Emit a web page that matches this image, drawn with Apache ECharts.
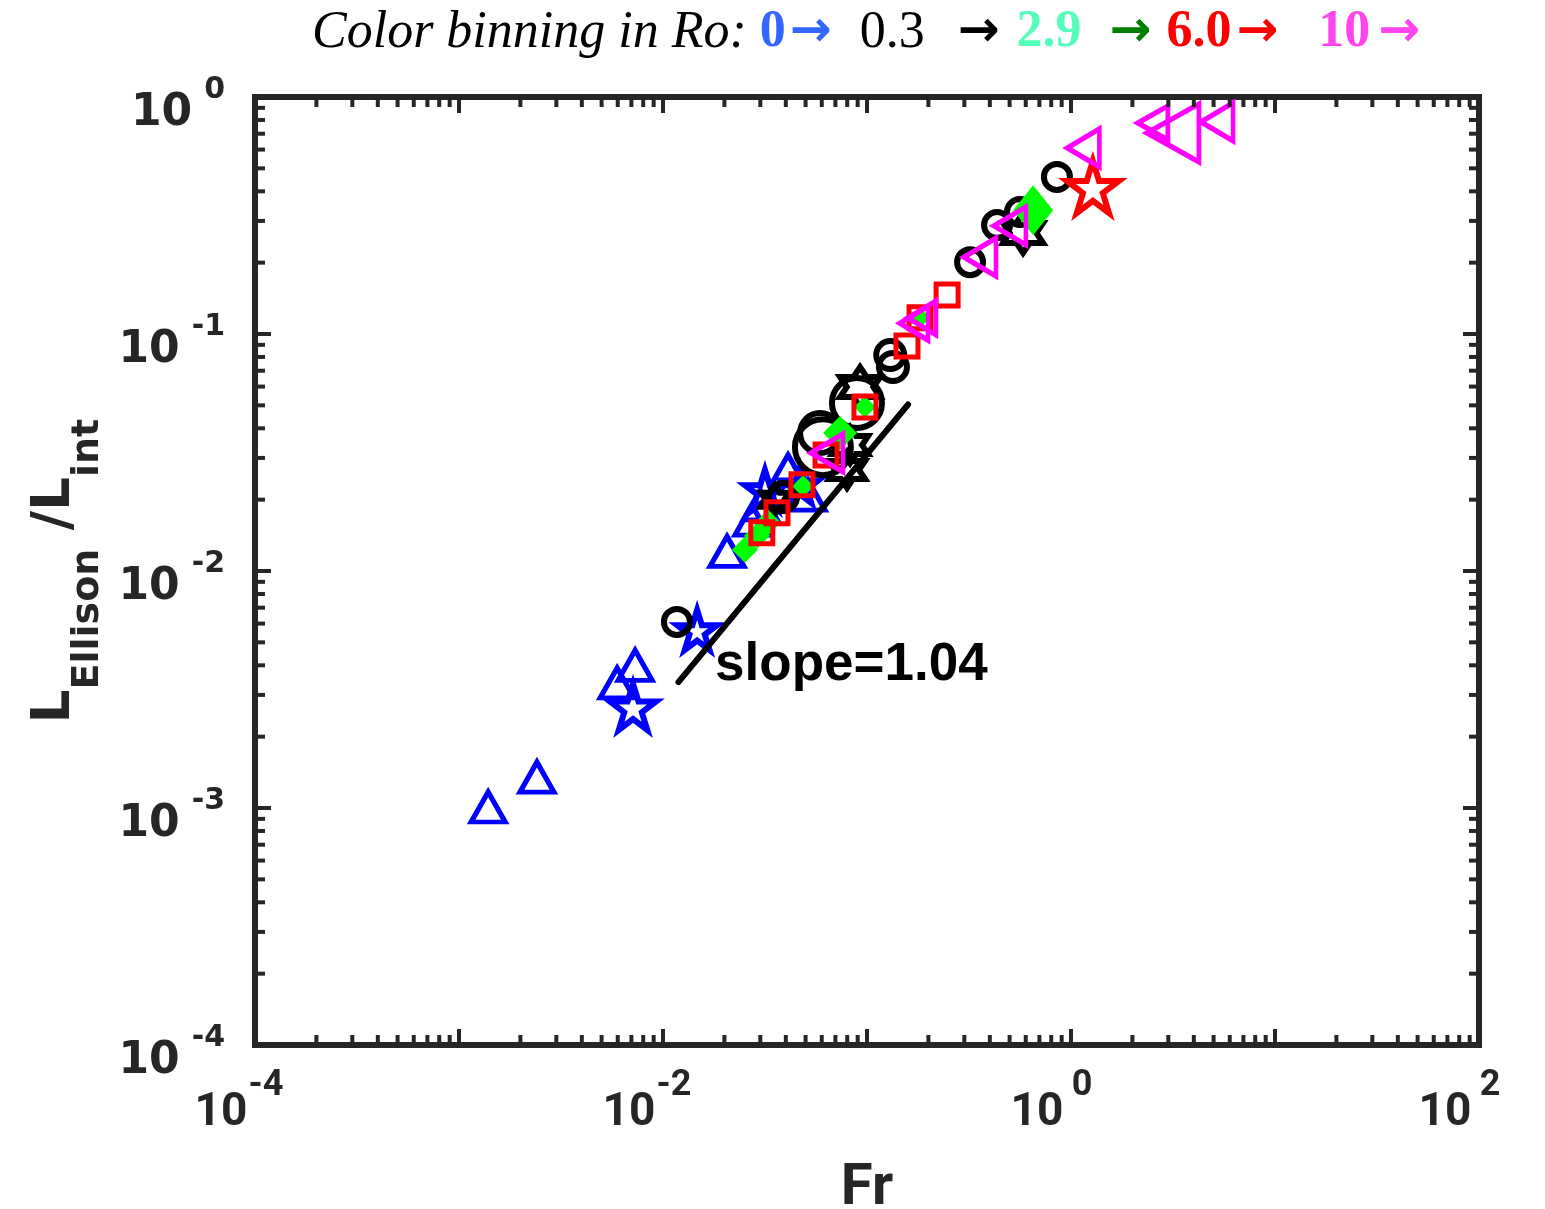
<!DOCTYPE html>
<html>
<head>
<meta charset="utf-8">
<script src="https://cdn.jsdelivr.net/npm/echarts@6/dist/echarts.min.js"></script>
<style>
  html, body { margin: 0; padding: 0; background: #ffffff; }
  #chart { width: 1545px; height: 1209px; }
</style>
</head>
<body>
<div id="chart"></div>
<script>
// ---- data: Fr (x) against L_Ellison / L_int (y), grouped by Ro bin and marker ----
const blueTriangles = [[0.00139,0.00101],[0.00241,0.00135],[0.00596,0.00337],[0.0073,0.0040],[0.0206,0.0121],[0.0273,0.0164],[0.030,0.019],[0.041,0.0267],[0.0514,0.0209]];
const blueStars = [[0.00713,0.00267],[0.0147,0.00564],[0.0316,0.022],[0.047,0.0231]];
const blackCircles = [[0.0117,0.0061],[0.0387,0.0205],[0.0608,0.0333],[0.0589,0.0382],[0.0893,0.0512],[0.13,0.0815],[0.134,0.0726],[0.32,0.201],[0.434,0.288],[0.562,0.327],[0.853,0.46]];
const blackHexagrams = [[0.582,0.267],[0.0925,0.0597],[0.0798,0.0267],[0.0826,0.034],[0.0354,0.020]];
const greenDiamonds = [[0.0252,0.0123],[0.0289,0.0141],[0.0327,0.016],[0.0486,0.0228],[0.0977,0.0492],[0.0738,0.0382],[0.182,0.117],[0.652,0.333]];
const redSquares = [[0.0305,0.0145],[0.0362,0.0176],[0.048,0.0231],[0.0977,0.0492],[0.157,0.089],[0.247,0.146],[0.063,0.0309],[0.182,0.117]];
const redStars = [[1.28,0.417]];
const magentaTriangles = [[1.15,0.61],[2.52,0.777],[3.16,0.705],[5.2,0.785],[0.358,0.211],[0.502,0.286],[0.186,0.117],[0.17,0.111],[0.0637,0.0315]];

// power-law fit drawn as a segment, and its label
const fitSlope = 1.04;
const fitLine = [[0.0119,0.0034],[0.159,0.0504]];
const slopeLabelAt = [0.018, 0.0040];

// axis ranges (decades)
const xRange = [1e-4, 1e2];
const yRange = [1e-4, 1];

// colour-bin caption pieces
const binValues = ['0', '0.3', '2.9', '6.0', '10'];

// ---- marker sizes (px, [width, height] where not square) ----
const blueTriangleSizes = [[34,30],[34,30],[34,30],[34,30],[34,30],[34,30],[34,30],[34,30],[34,30]];
const blueStarSizes = [46,40,40,36];
const blackCircleSizes = [26,28,56,40,50,28,28,26,26,26,26];
const blackHexagramSizes = [40,40,36,36,28];
const greenDiamondSizes = [26,26,26,22,22,34,20,[40,50]];
const redSquareSizes = [22,22,22,22,22,22,22,22];
const redStarSizes = [52];
const magentaTriangleSizes = [[32,38],[30,34],[52,58],[32,38],[32,38],[32,38],[28,34],[28,34],[32,38]];

// ---- symbol shapes ----
const STAR5 = 'path://M50,0 L61.23,34.55 L97.55,34.55 L68.16,55.9 L79.39,90.45 L50,69.1 L20.61,90.45 L31.84,55.9 L2.45,34.55 L38.77,34.55 Z';
const STAR6 = 'path://M50,0 L64.43,25 L93.3,25 L78.87,50 L93.3,75 L64.43,75 L50,100 L35.57,75 L6.7,75 L21.13,50 L6.7,25 L35.57,25 Z';
const TRI_LEFT = 'path://M0,50 L100,0 L100,100 Z';

const AXIS_COLOR = '#262626';

function withSizes(points, sizes) {
  return points.map((p, i) => ({ value: p, symbolSize: sizes[i] }));
}

function markerSeries(name, points, sizes, symbol, color, filled, width) {
  return {
    name: name,
    type: 'scatter',
    symbol: symbol,
    data: withSizes(points, sizes),
    itemStyle: {
      opacity: 1,
      color: filled ? color : 'rgba(0,0,0,0)',
      borderColor: color,
      borderWidth: filled ? 0 : width
    },
    emphasis: { disabled: true },
    silent: true
  };
}

// tick marks on all four sides (decades = major, 2..9 = minor)
const tickItems = [];
function addTicks(lo, hi, axisFlag) {
  for (let k = Math.round(Math.log10(lo)); k < Math.round(Math.log10(hi)); k++) {
    for (let m = 1; m <= 9; m++) {
      const v = Number((m * Math.pow(10, k)).toPrecision(3));
      if (v <= lo || v >= hi) continue;
      const major = m === 1 ? 1 : 0;
      if (axisFlag === 0) tickItems.push([v, 1e-2, 0, major]);
      else tickItems.push([1e-2, v, 1, major]);
    }
  }
}
addTicks(xRange[0], xRange[1], 0);
addTicks(yRange[0], yRange[1], 1);

const MAJOR_LEN = 16, MINOR_LEN = 10;

function renderTick(params, api) {
  const cs = params.coordSys;
  const len = api.value(3) === 1 ? MAJOR_LEN : MINOR_LEN;
  const style = { stroke: AXIS_COLOR, lineWidth: 4 };
  if (api.value(2) === 0) {
    const px = api.coord([api.value(0), yRange[0]])[0];
    return { type: 'group', children: [
      { type: 'line', shape: { x1: px, y1: cs.y + cs.height, x2: px, y2: cs.y + cs.height - len }, style: style },
      { type: 'line', shape: { x1: px, y1: cs.y, x2: px, y2: cs.y + len }, style: style }
    ]};
  }
  const py = api.coord([xRange[0], api.value(1)])[1];
  return { type: 'group', children: [
    { type: 'line', shape: { x1: cs.x, y1: py, x2: cs.x + len, y2: py }, style: style },
    { type: 'line', shape: { x1: cs.x + cs.width, y1: py, x2: cs.x + cs.width - len, y2: py }, style: style }
  ]};
}

function expOf(v) { return Math.round(Math.log10(v)); }

const chart = echarts.init(document.getElementById('chart'), null, { renderer: 'canvas' });

const arrowFont = { fontFamily: 'DejaVu Sans', fontSize: 50, fontWeight: 'bold' };
const numFont = { fontFamily: 'Liberation Serif', fontSize: 52, fontWeight: 'bold' };

chart.setOption({
  animation: false,
  backgroundColor: '#ffffff',
  title: {
    left: 307,
    top: 2,
    text: '{i|Color binning in Ro: }{n0|' + binValues[0] + '}{a0|→}{n1|' + binValues[1] + '}{a1|→}{n2|' +
          binValues[2] + '}{a2|→}{n3|' + binValues[3] + '}{a3|→}{n4|' + binValues[4] + '}{a4|→}',
    textStyle: {
      fontWeight: 'normal',
      rich: {
        i:  { fontFamily: 'Liberation Serif', fontStyle: 'italic', fontWeight: 'normal', fontSize: 52, color: '#000000' },
        n0: Object.assign({}, numFont, { color: '#3366ff' }),
        a0: Object.assign({}, arrowFont, { color: '#3366ff', padding: [0, 28, 0, 4] }),
        n1: { fontFamily: 'Liberation Serif', fontWeight: 'normal', fontSize: 52, color: '#000000' },
        a1: Object.assign({}, arrowFont, { color: '#000000', padding: [0, 17, 0, 33] }),
        n2: Object.assign({}, numFont, { color: '#55ffbb' }),
        a2: Object.assign({}, arrowFont, { color: '#008000', padding: [0, 15, 0, 28] }),
        n3: Object.assign({}, numFont, { color: '#ff0000' }),
        a3: Object.assign({}, arrowFont, { color: '#ff0000', padding: [0, 40, 0, 5] }),
        n4: Object.assign({}, numFont, { color: '#ff44ee' }),
        a4: Object.assign({}, arrowFont, { color: '#ff44ee', padding: [0, 0, 0, 8] })
      }
    }
  },
  grid: {
    left: 255, right: 66, top: 97, bottom: 164,
    containLabel: false, outerBoundsMode: 'none',
    show: true, borderColor: AXIS_COLOR, borderWidth: 6, backgroundColor: 'rgba(0,0,0,0)'
  },
  xAxis: {
    type: 'log', logBase: 10, min: xRange[0], max: xRange[1], interval: 1,
    axisLine: { show: false }, axisTick: { show: false }, splitLine: { show: false },
    axisLabel: {
      margin: 23,
      align: 'center',
      formatter: function (v) {
        const e = expOf(v);
        return e % 2 === 0 ? '{b|10}{e|' + e + '}{s| }' : '';
      },
      rich: {
        b: { fontFamily: 'Roboto', fontWeight: 'bold', fontSize: 46, lineHeight: 46,
             color: AXIS_COLOR, width: 52, verticalAlign: 'top', padding: [22, 0, 0, 0] },
        e: { fontFamily: 'Roboto', fontWeight: 'bold', fontSize: 36, lineHeight: 36,
             color: AXIS_COLOR, width: 38, verticalAlign: 'top' },
        s: { fontSize: 10, width: 30 }
      }
    },
    name: 'Fr',
    nameLocation: 'middle',
    nameGap: 115,
    nameTextStyle: { fontFamily: 'Roboto', fontWeight: 'bold', fontSize: 58, color: AXIS_COLOR }
  },
  yAxis: {
    type: 'log', logBase: 10, min: yRange[0], max: yRange[1], interval: 1,
    axisLine: { show: false }, axisTick: { show: false }, splitLine: { show: false },
    axisLabel: {
      margin: 30,
      formatter: function (v) { return '{b|10}{e|' + expOf(v) + '}'; },
      rich: {
        b: { fontFamily: 'DejaVu Sans', fontWeight: 'bold', fontSize: 44, lineHeight: 44,
             color: AXIS_COLOR, verticalAlign: 'top', padding: [17, 0, 0, 0] },
        e: { fontFamily: 'DejaVu Sans', fontWeight: 'bold', fontSize: 30, lineHeight: 30,
             color: AXIS_COLOR, verticalAlign: 'top', padding: [0, 0, 0, 12] }
      }
    },
    name: '{L|L}{s|Ellison}{L| /L}{s|int}',
    nameLocation: 'middle',
    nameRotate: 90,
    nameGap: 172,
    nameTextStyle: {
      rich: {
        L: { fontFamily: 'DejaVu Sans', fontWeight: 'bold', fontSize: 53, lineHeight: 53,
             color: AXIS_COLOR, verticalAlign: 'top' },
        s: { fontFamily: 'DejaVu Sans', fontWeight: 'bold', fontSize: 38, lineHeight: 38,
             color: AXIS_COLOR, verticalAlign: 'top', padding: [41, 0, 0, 0] }
      }
    }
  },
  series: [
    { type: 'custom', renderItem: renderTick, data: tickItems, silent: true, clip: false, z: 5,
      encode: { x: 0, y: 1 } },
    markerSeries('blueTriangles', blueTriangles, blueTriangleSizes, 'triangle', '#0000ff', false, 5),
    markerSeries('blueStars', blueStars, blueStarSizes, STAR5, '#0000ff', false, 6),
    markerSeries('blackCircles', blackCircles, blackCircleSizes, 'circle', '#000000', false, 6),
    markerSeries('blackHexagrams', blackHexagrams, blackHexagramSizes, STAR6, '#000000', false, 6),
    markerSeries('greenDiamonds', greenDiamonds, greenDiamondSizes, 'diamond', '#00ff00', true, 0),
    markerSeries('redSquares', redSquares, redSquareSizes, 'rect', '#ff0000', false, 5),
    markerSeries('redStars', redStars, redStarSizes, STAR5, '#ff0000', false, 6),
    markerSeries('magentaTriangles', magentaTriangles, magentaTriangleSizes, TRI_LEFT, '#ff00ff', false, 5),
    {
      type: 'line', data: fitLine, symbol: 'none', silent: true,
      lineStyle: { color: '#000000', width: 6, cap: 'round', opacity: 1 }
    },
    {
      type: 'scatter', data: [slopeLabelAt], symbolSize: 0, silent: true,
      itemStyle: { opacity: 1 },
      label: {
        show: true, position: 'inside', align: 'left', verticalAlign: 'middle',
        formatter: 'slope=' + fitSlope.toFixed(2),
        fontFamily: 'Liberation Sans', fontWeight: 'bold', fontSize: 53, color: '#000000'
      }
    }
  ]
});
</script>
</body>
</html>
